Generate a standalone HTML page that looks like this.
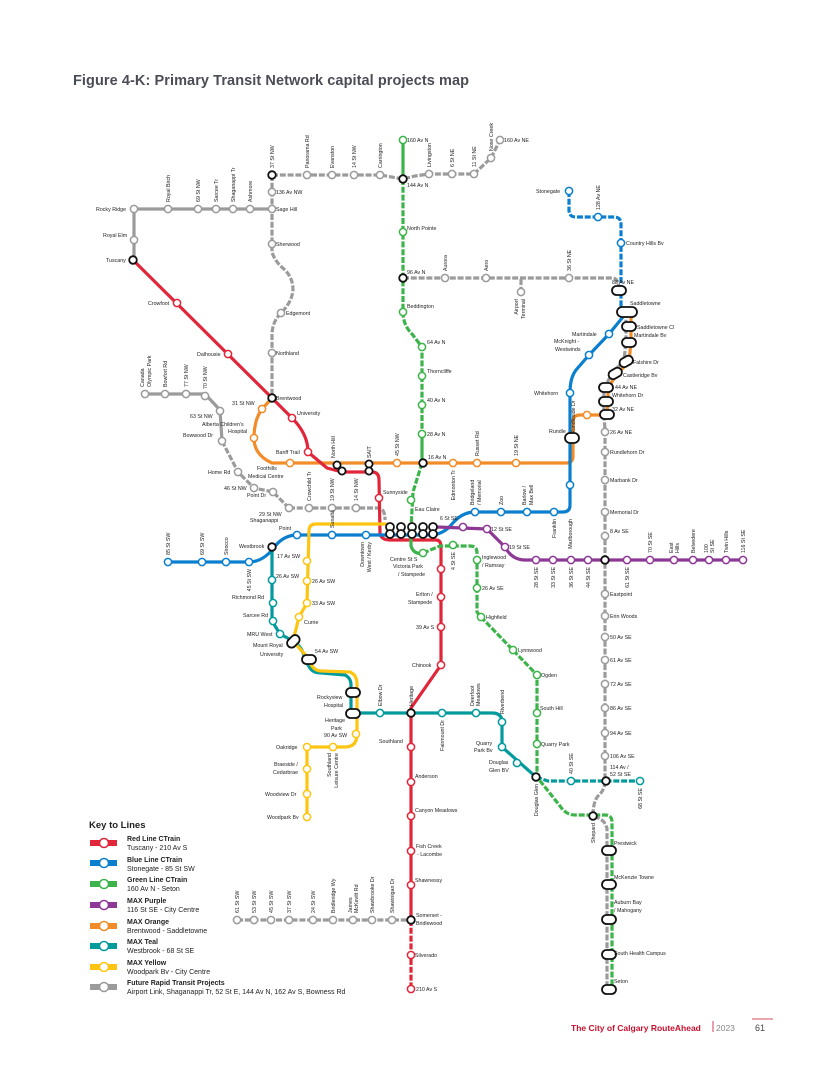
<!DOCTYPE html>
<html><head><meta charset="utf-8"><style>
html,body{margin:0;padding:0;background:#fff}
svg{display:block}
text{font-family:"Liberation Sans",sans-serif;fill:#222}
.t{font-size:5.3px}
.s{fill:#fff;stroke-width:1.5}
.L{fill:none;stroke-width:3.2;stroke-linecap:round;stroke-linejoin:round}
.L.d{stroke-dasharray:6 1.8;stroke-linecap:butt}
.r{stroke:#e1263a}.b{stroke:#0b7fcf}.g{stroke:#3db44b}.p{stroke:#8e3896}.o{stroke:#f28c28}.e{stroke:#039a9c}.y{stroke:#fdc512}.x{stroke:#9b9b9b}.k{stroke:#111}
.pl{fill:#fff;stroke:#111;stroke-width:1.8}
</style></head><body>
<svg width="830" height="1079" viewBox="0 0 830 1079" xmlns="http://www.w3.org/2000/svg">
<rect width="830" height="1079" fill="#fff"/>
<text x="73" y="85" style="font-size:14.5px;font-weight:bold;fill:#4a4d55" textLength="396">Figure 4-K: Primary Transit Network capital projects map</text>

<!-- gray future lines -->
<path class="L x" d="M134,209 L272,209 M134,209 L134,260"/>
<path class="L x d" d="M272,175 L272,244 L272,252 Q275,262 285,270 Q293,278 293,290 Q292,302 281,313 Q272,322 272,335 L272,398"/>
<path class="L x d" d="M272,175 L380,175 L403,179 L415,176 L429,174 L474,174 L491,158 L500,140"/>
<path class="L x d" d="M403,278 L612,278 Q619,278 619,290 M521,279 L521,292"/>
<path class="L x" d="M145,394 L205,394 L220,410 L222,441"/>
<path class="L x d" d="M222,441 L238,472 L254,488 L273,492 L289,508"/>
<path class="L x d" d="M289,508 L378,508 Q385,508 385,520"/>
<path class="L x d" d="M626,312 L626,342 L624,360 L612,374 L604,388 L604,414 L605,430 L605,781 Q605,790 598,796 Q593,802 593,816 Q600,818 604,822 L607,828 L607,989"/>
<path class="L x d" d="M237,920 L411,920"/>

<!-- orange -->
<path class="L o" d="M272,398 L262,409 Q254,420 254,438 Q254,455 272,463 L566,463 Q573,463 573,456 L573,422 Q573,415 580,415 L607,415 L608,401 L608,388 L617,374 L629,362 L631,342 L631,312"/>
<!-- red -->
<path class="L r" d="M133,260 L272,398 L292,418 Q308,434 308,452 L327,468 L342,472 L372,472 Q379,472 379,480 L380,533 Q381,540 390,540 L436,540 Q441,540 441,547 L441,665 L411,708 L411,920"/>
<path class="L r d" d="M411,920 L411,989"/>
<!-- blue -->
<path class="L b d" d="M569,191 L569,210 Q569,217 576,217 L614,217 Q621,217 621,224 L621,312"/>
<path class="L b" d="M627,312 L609,334 L589,355 L576,370 Q570,378 570,392 L570,505 Q570,512 563,512 L475,512 Q462,512 452,524 Q445,533 433,535 L297,535 Q285,535 276,545 Q264,562 249,562 L168,562"/>
<!-- purple -->
<path class="L p" d="M437,527 L487,529 L505,547 Q512,560 525,560 L743,560"/>
<!-- teal -->
<path class="L e" d="M272,547 L272,621 L280,634 L293,641 Q303,647 305,660 L310,668 Q313,673 322,673 L345,675 Q351,678 351,685 L351,713 L492,713 Q502,713 502,722 L502,747 L536,777"/>
<path class="L e d" d="M536,777 L548,781 L640,781"/>
<!-- yellow -->
<path class="L y" d="M386,524 L316,524 Q309,524 309,531 L307,603 L299,617 L293,641 L309,659 Q312,671 322,671 L350,672 Q357,675 357,684 L357,734 Q357,747 345,747 L307,747 L307,817"/>
<!-- green -->
<path class="L g" d="M403,140 L403,179"/>
<path class="L g d" d="M403,179 L403,312 Q403,325 412,334 L422,347 L422,434"/>
<path class="L g" d="M422,434 L422,463"/>
<path class="L g d" d="M422,463 L413,492 L411,528"/>
<path class="L g" d="M411,528 L411,546 Q414,555 423,553"/>
<path class="L g d" d="M423,553 L440,546 L470,546 Q477,546 477,553 L477,612 L481,617 L537,675 L537,777 L560,806 Q566,815 575,815 L605,815 Q612,815 612,822 L612,989"/>

<!-- stations: red -->
<g class="s r">
<circle cx="177" cy="303" r="3.6"/><circle cx="228" cy="354" r="3.6"/><circle cx="292" cy="418" r="3.6"/><circle cx="308" cy="452" r="3.6"/><circle cx="379" cy="498" r="3.6"/>
<circle cx="441" cy="569" r="3.6"/><circle cx="441" cy="597" r="3.6"/><circle cx="441" cy="627" r="3.6"/><circle cx="441" cy="665" r="3.6"/>
<circle cx="411" cy="747" r="3.6"/><circle cx="411" cy="782" r="3.6"/><circle cx="411" cy="816" r="3.6"/><circle cx="411" cy="851" r="3.6"/><circle cx="411" cy="885" r="3.6"/><circle cx="411" cy="955" r="3.6"/><circle cx="411" cy="989" r="3.6"/>
</g>
<g class="s b">
<circle cx="569" cy="191" r="3.6"/><circle cx="598" cy="217" r="3.6"/><circle cx="621" cy="243" r="3.6"/><circle cx="609" cy="334" r="3.6"/><circle cx="589" cy="355" r="3.6"/><circle cx="570" cy="393" r="3.6"/><circle cx="570" cy="485" r="3.6"/>
<circle cx="475" cy="512" r="3.6"/><circle cx="501" cy="512" r="3.6"/><circle cx="527" cy="512" r="3.6"/><circle cx="554" cy="512" r="3.6"/>
<circle cx="297" cy="535" r="3.6"/><circle cx="332" cy="535" r="3.6"/><circle cx="366" cy="535" r="3.6"/>
<circle cx="168" cy="562" r="3.6"/><circle cx="202" cy="562" r="3.6"/><circle cx="226" cy="562" r="3.6"/><circle cx="249" cy="562" r="3.6"/>
</g>
<g class="s g">
<circle cx="403" cy="140" r="3.6"/><circle cx="403" cy="232" r="3.6"/><circle cx="403" cy="312" r="3.6"/><circle cx="422" cy="347" r="3.6"/><circle cx="422" cy="376" r="3.6"/><circle cx="422" cy="405" r="3.6"/><circle cx="422" cy="434" r="3.6"/>
<circle cx="411" cy="500" r="3.6"/><circle cx="423" cy="553" r="3.6"/><circle cx="453" cy="545" r="3.6"/><circle cx="477" cy="560" r="3.6"/><circle cx="477" cy="588" r="3.6"/><circle cx="481" cy="617" r="3.6"/><circle cx="513" cy="650" r="3.6"/><circle cx="537" cy="675" r="3.6"/><circle cx="537" cy="713" r="3.6"/><circle cx="537" cy="744" r="3.6"/>
</g>
<g class="s p">
<circle cx="463" cy="527" r="3.6"/><circle cx="487" cy="529" r="3.6"/><circle cx="505" cy="547" r="3.6"/>
<circle cx="536" cy="560" r="3.6"/><circle cx="553" cy="560" r="3.6"/><circle cx="571" cy="560" r="3.6"/><circle cx="588" cy="560" r="3.6"/><circle cx="627" cy="560" r="3.6"/><circle cx="650" cy="560" r="3.6"/><circle cx="674" cy="560" r="3.6"/><circle cx="693" cy="560" r="3.6"/><circle cx="709" cy="560" r="3.6"/><circle cx="726" cy="560" r="3.6"/><circle cx="743" cy="560" r="3.6"/>
</g>
<g class="s o">
<circle cx="262" cy="409" r="3.6"/><circle cx="254" cy="438" r="3.6"/><circle cx="290" cy="463" r="3.6"/><circle cx="397" cy="463" r="3.6"/><circle cx="453" cy="463" r="3.6"/><circle cx="477" cy="463" r="3.6"/><circle cx="516" cy="463" r="3.6"/><circle cx="587" cy="415" r="3.6"/>
</g>
<g class="s e">
<circle cx="272" cy="580" r="3.6"/><circle cx="273" cy="603" r="3.6"/><circle cx="273" cy="621" r="3.6"/><circle cx="280" cy="634" r="3.6"/>
<circle cx="380" cy="713" r="3.6"/><circle cx="442" cy="713" r="3.6"/><circle cx="476" cy="713" r="3.6"/><circle cx="502" cy="722" r="3.6"/><circle cx="502" cy="747" r="3.6"/><circle cx="517" cy="763" r="3.6"/><circle cx="571" cy="781" r="3.6"/><circle cx="640" cy="781" r="3.6"/>
</g>
<g class="s y">
<circle cx="307" cy="561" r="3.6"/><circle cx="307" cy="581" r="3.6"/><circle cx="307" cy="603" r="3.6"/><circle cx="299" cy="617" r="3.6"/>
<circle cx="356" cy="734" r="3.6"/><circle cx="333" cy="747" r="3.6"/><circle cx="307" cy="747" r="3.6"/><circle cx="307" cy="769" r="3.6"/><circle cx="307" cy="794" r="3.6"/><circle cx="307" cy="817" r="3.6"/>
</g>
<g class="s x">
<circle cx="134" cy="209" r="3.6"/><circle cx="168" cy="209" r="3.6"/><circle cx="198" cy="209" r="3.6"/><circle cx="216" cy="209" r="3.6"/><circle cx="233" cy="209" r="3.6"/><circle cx="250" cy="209" r="3.6"/><circle cx="272" cy="209" r="3.6"/><circle cx="272" cy="192" r="3.6"/><circle cx="134" cy="240" r="3.6"/>
<circle cx="272" cy="244" r="3.6"/><circle cx="281" cy="313" r="3.6"/><circle cx="272" cy="353" r="3.6"/>
<circle cx="307" cy="175" r="3.6"/><circle cx="332" cy="175" r="3.6"/><circle cx="354" cy="175" r="3.6"/><circle cx="380" cy="175" r="3.6"/><circle cx="429" cy="174" r="3.6"/><circle cx="452" cy="174" r="3.6"/><circle cx="474" cy="174" r="3.6"/><circle cx="491" cy="158" r="3.6"/><circle cx="500" cy="140" r="3.6"/>
<circle cx="445" cy="278" r="3.6"/><circle cx="486" cy="278" r="3.6"/><circle cx="521" cy="292" r="3.6"/><circle cx="569" cy="278" r="3.6"/>
<circle cx="145" cy="394" r="3.6"/><circle cx="165" cy="394" r="3.6"/><circle cx="186" cy="394" r="3.6"/><circle cx="205" cy="396" r="3.6"/><circle cx="220" cy="411" r="3.6"/><circle cx="222" cy="441" r="3.6"/><circle cx="238" cy="472" r="3.6"/><circle cx="254" cy="488" r="3.6"/><circle cx="273" cy="492" r="3.6"/><circle cx="289" cy="508" r="3.6"/><circle cx="309" cy="508" r="3.6"/><circle cx="332" cy="508" r="3.6"/><circle cx="356" cy="508" r="3.6"/>
<circle cx="605" cy="432" r="3.6"/><circle cx="605" cy="452" r="3.6"/><circle cx="605" cy="480" r="3.6"/><circle cx="605" cy="512" r="3.6"/><circle cx="605" cy="536" r="3.6"/><circle cx="605" cy="594" r="3.6"/><circle cx="605" cy="616" r="3.6"/><circle cx="605" cy="637" r="3.6"/><circle cx="605" cy="660" r="3.6"/><circle cx="605" cy="684" r="3.6"/><circle cx="605" cy="708" r="3.6"/><circle cx="605" cy="733" r="3.6"/><circle cx="605" cy="756" r="3.6"/>
<circle cx="237" cy="920" r="3.6"/><circle cx="254" cy="920" r="3.6"/><circle cx="271" cy="920" r="3.6"/><circle cx="289" cy="920" r="3.6"/><circle cx="313" cy="920" r="3.6"/><circle cx="333" cy="920" r="3.6"/><circle cx="353" cy="920" r="3.6"/><circle cx="372" cy="920" r="3.6"/><circle cx="392" cy="920" r="3.6"/>
</g>
<!-- interchange black -->
<g class="s k" style="stroke-width:1.8">
<circle cx="272" cy="175" r="3.8"/><circle cx="403" cy="179" r="3.8"/><circle cx="133" cy="260" r="3.8"/><circle cx="403" cy="278" r="3.8"/><circle cx="272" cy="398" r="3.8"/><circle cx="423" cy="463" r="3.8"/><circle cx="272" cy="547" r="3.8"/><circle cx="605" cy="560" r="3.8"/><circle cx="411" cy="713" r="3.8"/><circle cx="536" cy="777" r="3.8"/><circle cx="606" cy="781" r="3.8"/><circle cx="593" cy="816" r="3.8"/><circle cx="411" cy="920" r="3.8"/>
<circle cx="337" cy="465" r="3.6"/><circle cx="342" cy="471" r="3.6"/><circle cx="369" cy="464" r="3.6"/><circle cx="369" cy="471" r="3.6"/>
<circle cx="390" cy="527" r="4"/><circle cx="390" cy="534" r="4"/><circle cx="401" cy="527" r="4"/><circle cx="401" cy="534" r="4"/><circle cx="412" cy="527" r="4"/><circle cx="412" cy="534" r="4"/><circle cx="423" cy="527" r="4"/><circle cx="423" cy="534" r="4"/><circle cx="433" cy="527" r="4"/><circle cx="433" cy="534" r="4"/>
</g>
<!-- pills -->
<g class="pl">
<rect x="612" y="286" width="14" height="9" rx="4.5"/><rect x="617" y="307" width="20" height="10" rx="5"/><rect x="622" y="322" width="14" height="9" rx="4.5"/><rect x="622" y="338" width="14" height="9" rx="4.5"/><rect x="619" y="357" width="14" height="9" rx="4.5" transform="rotate(-30 626 361)"/><rect x="608" y="369" width="14" height="9" rx="4.5" transform="rotate(-30 615 373)"/><rect x="599" y="383" width="14" height="9" rx="4.5"/><rect x="599" y="397" width="14" height="9" rx="4.5"/><rect x="600" y="410" width="14" height="9" rx="4.5"/><rect x="565" y="433" width="14" height="10" rx="5"/>
<rect x="286" y="637" width="14" height="9" rx="4.5" transform="rotate(-45 293 641)"/><rect x="302" y="655" width="14" height="9" rx="4.5"/><rect x="346" y="688" width="14" height="9" rx="4.5"/><rect x="346" y="709" width="14" height="9" rx="4.5"/>
<rect x="602" y="846" width="14" height="9" rx="4.5"/><rect x="602" y="880" width="14" height="9" rx="4.5"/><rect x="602" y="915" width="14" height="9" rx="4.5"/><rect x="602" y="950" width="14" height="9" rx="4.5"/><rect x="602" y="985" width="14" height="9" rx="4.5"/>
</g>

<!-- labels horizontal -->
<g class="t">
<text x="407" y="142">160 Av N</text><text x="504" y="142">160 Av NE</text><text x="276" y="194">136 Av NW</text><text x="407" y="187">144 Av N</text>
<text x="96" y="211">Rocky Ridge</text><text x="276" y="211">Sage Hill</text><text x="103" y="237">Royal Elm</text><text x="106" y="262">Tuscany</text>
<text x="407" y="230">North Pointe</text><text x="536" y="193">Stonegate</text><text x="626" y="245">Country Hills Bv</text>
<text x="276" y="246">Sherwood</text><text x="407" y="274">96 Av N</text><text x="612" y="284">88 Av NE</text><text x="630" y="305">Saddletowne</text>
<text x="148" y="305">Crowfoot</text><text x="407" y="308">Beddington</text><text x="286" y="315">Edgemont</text><text x="427" y="344">64 Av N</text>
<text x="637" y="329">Saddletowne Cl</text><text x="634" y="337">Martindale Bv</text><text x="572" y="336">Martindale</text><text x="554" y="343">McKnight -</text><text x="555" y="351">Westwinds</text>
<text x="197" y="356">Dalhousie</text><text x="276" y="355">Northland</text><text x="633" y="364">Falshire Dr</text><text x="623" y="377">Castleridge Bv</text>
<text x="427" y="373">Thorncliffe</text><text x="615" y="389">44 Av NE</text><text x="612" y="397">Whitehorn Dr</text><text x="534" y="395">Whitehorn</text>
<text x="276" y="400">Brentwood</text><text x="232" y="405">31 St NW</text><text x="427" y="402">40 Av N</text><text x="612" y="411">32 Av NE</text><text x="190" y="418">63 St NW</text><text x="297" y="415">University</text>
<text x="202" y="426">Alberta Children's</text><text x="228" y="433">Hospital</text><text x="183" y="437">Bowwood Dr</text><text x="427" y="436">28 Av N</text><text x="549" y="433">Rundle</text><text x="610" y="434">26 Av NE</text>
<text x="276" y="454">Banff Trail</text><text x="610" y="454">Rundlehorn Dr</text><text x="428" y="459">16 Av N</text>
<text x="257" y="470">Foothills</text><text x="248" y="478">Medical Centre</text><text x="208" y="474">Home Rd</text><text x="610" y="482">Marbank Dr</text>
<text x="224" y="490">46 St NW</text><text x="247" y="497">Point Dr</text><text x="383" y="494">Sunnyside</text><text x="415" y="511">Eau Claire</text><text x="610" y="514">Memorial Dr</text>
<text x="259" y="516">29 St NW</text><text x="250" y="522">Shaganappi</text><text x="279" y="530">Point</text><text x="440" y="520">6 St SE</text><text x="491" y="531">12 St SE</text><text x="509" y="549">19 St SE</text><text x="610" y="533">8 Av SE</text>
<text x="239" y="548">Westbrook</text><text x="277" y="558">17 Av SW</text><text x="390" y="561">Centre St S</text><text x="393" y="568">Victoria Park</text><text x="398" y="576">/ Stampede</text><text x="482" y="559">Inglewood</text><text x="482" y="567">/ Ramsay</text>
<text x="276" y="578">26 Av SW</text><text x="312" y="583">26 Av SW</text><text x="482" y="590">26 Av SE</text><text x="610" y="596">Eastpoint</text>
<text x="232" y="599">Richmond Rd</text><text x="312" y="605">33 Av SW</text><text x="416" y="596">Erlton /</text><text x="408" y="604">Stampede</text>
<text x="243" y="617">Sarcee Rd</text><text x="304" y="624">Currie</text><text x="486" y="619">Highfield</text><text x="610" y="618">Erin Woods</text><text x="416" y="629">39 Av S</text>
<text x="247" y="636">MRU West</text><text x="253" y="647">Mount Royal</text><text x="260" y="656">University</text><text x="315" y="653">54 Av SW</text><text x="610" y="639">50 Av SE</text>
<text x="518" y="652">Lynnwood</text><text x="610" y="662">61 Av SE</text><text x="412" y="667">Chinook</text><text x="541" y="677">Ogden</text>
<text x="317" y="699">Rockyview</text><text x="324" y="707">Hospital</text><text x="610" y="686">72 Av SE</text><text x="540" y="710">South Hill</text><text x="610" y="710">86 Av SE</text>
<text x="325" y="722">Heritage</text><text x="331" y="730">Park</text><text x="324" y="737">90 Av SW</text><text x="379" y="743">Southland</text><text x="610" y="735">94 Av SE</text>
<text x="476" y="745">Quarry</text><text x="474" y="752">Park Bv</text><text x="541" y="746">Quarry Park</text><text x="276" y="749">Oakridge</text><text x="610" y="758">106 Av SE</text>
<text x="489" y="764">Douglas</text><text x="489" y="772">Glen BV</text><text x="610" y="769">114 Av /</text><text x="610" y="776">52 St SE</text>
<text x="274" y="766">Braeside /</text><text x="273" y="774">Cedarbrae</text><text x="415" y="778">Anderson</text><text x="265" y="796">Woodview Dr</text>
<text x="415" y="812">Canyon Meadows</text><text x="267" y="819">Woodpark Bv</text><text x="614" y="845">Prestwick</text>
<text x="416" y="848">Fish Creek</text><text x="417" y="856">- Lacombe</text><text x="614" y="879">McKenzie Towne</text><text x="415" y="882">Shawnessy</text>
<text x="614" y="904">Auburn Bay</text><text x="614" y="912">/ Mahogany</text><text x="416" y="917">Somerset -</text><text x="416" y="925">Bridlewood</text>
<text x="614" y="955">South Health Campus</text><text x="415" y="957">Silverado</text><text x="614" y="983">Seton</text><text x="416" y="991">210 Av S</text>
</g>
<!-- vertical labels -->
<g class="t">
<text transform="translate(274,168) rotate(-90)">37 St NW</text><text transform="translate(309,168) rotate(-90)">Panorama Rd</text><text transform="translate(334,168) rotate(-90)">Evanston</text><text transform="translate(356,168) rotate(-90)">14 St NW</text><text transform="translate(382,168) rotate(-90)">Carrington</text>
<text transform="translate(431,167) rotate(-90)">Livingston</text><text transform="translate(454,167) rotate(-90)">6 St NE</text><text transform="translate(476,167) rotate(-90)">11 St NE</text><text transform="translate(493,151) rotate(-90)">Nose Creek</text>
<text transform="translate(170,202) rotate(-90)">Royal Birch</text><text transform="translate(200,202) rotate(-90)">69 St NW</text><text transform="translate(218,202) rotate(-90)">Sarcee Tr</text><text transform="translate(235,202) rotate(-90)">Shaganappi Tr</text><text transform="translate(252,202) rotate(-90)">Ashmore</text>
<text transform="translate(600,210) rotate(-90)">128 Av NE</text><text transform="translate(447,271) rotate(-90)">Aurora</text><text transform="translate(488,271) rotate(-90)">Aero</text><text transform="translate(571,271) rotate(-90)">36 St NE</text>
<text transform="translate(518,299) rotate(-90)" text-anchor="end">Airport</text><text transform="translate(525,299) rotate(-90)" text-anchor="end">Terminal</text>
<text transform="translate(144,387) rotate(-90)">Canada</text><text transform="translate(151,387) rotate(-90)">Olympic Park</text><text transform="translate(167,387) rotate(-90)">Bowfort Rd</text><text transform="translate(188,387) rotate(-90)">77 St NW</text><text transform="translate(207,389) rotate(-90)">70 St NW</text>
<text transform="translate(335,458) rotate(-90)">North Hill</text><text transform="translate(371,458) rotate(-90)">SAIT</text><text transform="translate(399,456) rotate(-90)">45 St NW</text><text transform="translate(479,456) rotate(-90)">Russet Rd</text><text transform="translate(518,456) rotate(-90)">19 St NE</text>
<text transform="translate(455,470) rotate(-90)" text-anchor="end">Edmonton Tr</text><text transform="translate(311,501) rotate(-90)">Crowchild Tr</text><text transform="translate(334,501) rotate(-90)">19 St NW</text><text transform="translate(358,501) rotate(-90)">14 St NW</text>
<text transform="translate(575,434) rotate(-90)">Rundleside Dr</text>
<text transform="translate(474,505) rotate(-90)">Bridgeland</text><text transform="translate(481,505) rotate(-90)">/ Memorial</text><text transform="translate(503,505) rotate(-90)">Zoo</text><text transform="translate(526,505) rotate(-90)">Barlow /</text><text transform="translate(533,505) rotate(-90)">Max Bell</text>
<text transform="translate(556,519) rotate(-90)" text-anchor="end">Franklin</text><text transform="translate(572,519) rotate(-90)" text-anchor="end">Marlborough</text>
<text transform="translate(170,555) rotate(-90)">85 St SW</text><text transform="translate(204,555) rotate(-90)">69 St SW</text><text transform="translate(228,555) rotate(-90)">Sirocco</text><text transform="translate(251,569) rotate(-90)" text-anchor="end">45 St SW</text>
<text transform="translate(334,528) rotate(-90)">Sunalta</text><text transform="translate(364,542) rotate(-90)" text-anchor="end">Downtown</text><text transform="translate(371,542) rotate(-90)" text-anchor="end">West / Kerby</text><text transform="translate(455,552) rotate(-90)" text-anchor="end">4 St SE</text>
<text transform="translate(538,567) rotate(-90)" text-anchor="end">28 St SE</text><text transform="translate(555,567) rotate(-90)" text-anchor="end">33 St SE</text><text transform="translate(573,567) rotate(-90)" text-anchor="end">36 St SE</text><text transform="translate(590,567) rotate(-90)" text-anchor="end">44 St SE</text><text transform="translate(629,567) rotate(-90)" text-anchor="end">61 St SE</text>
<text transform="translate(652,553) rotate(-90)">70 St SE</text><text transform="translate(673,553) rotate(-90)">East</text><text transform="translate(679,553) rotate(-90)">Hills</text><text transform="translate(695,553) rotate(-90)">Belvedere</text><text transform="translate(708,553) rotate(-90)">100</text><text transform="translate(714,553) rotate(-90)">St SE</text><text transform="translate(728,553) rotate(-90)">Twin Hills</text><text transform="translate(745,553) rotate(-90)">116 St SE</text>
<text transform="translate(382,706) rotate(-90)">Elbow Dr</text><text transform="translate(413,706) rotate(-90)">Heritage</text><text transform="translate(474,706) rotate(-90)">Deerfoot</text><text transform="translate(480,706) rotate(-90)">Meadows</text><text transform="translate(504,714) rotate(-90)">Riverbend</text>
<text transform="translate(444,720) rotate(-90)" text-anchor="end">Fairmount Dr</text><text transform="translate(331,753) rotate(-90)" text-anchor="end">Southland</text><text transform="translate(338,753) rotate(-90)" text-anchor="end">Leisure Centre</text>
<text transform="translate(538,784) rotate(-90)" text-anchor="end">Douglas Glen</text><text transform="translate(573,774) rotate(-90)">40 St SE</text><text transform="translate(642,788) rotate(-90)" text-anchor="end">68 St SE</text><text transform="translate(595,823) rotate(-90)" text-anchor="end">Shepard</text>
<text transform="translate(239,913) rotate(-90)">61 St SW</text><text transform="translate(256,913) rotate(-90)">53 St SW</text><text transform="translate(273,913) rotate(-90)">45 St SW</text><text transform="translate(291,913) rotate(-90)">37 St SW</text><text transform="translate(315,913) rotate(-90)">24 St SW</text><text transform="translate(335,913) rotate(-90)">Bridleridge Wy</text><text transform="translate(352,913) rotate(-90)">James</text><text transform="translate(358,913) rotate(-90)">McKevitt Rd</text><text transform="translate(374,913) rotate(-90)">Shawbrooke Dr</text><text transform="translate(394,913) rotate(-90)">Shawinigan Dr</text>
</g>

<!-- legend -->
<text x="89" y="828" style="font-size:9.5px;font-weight:bold">Key to Lines</text>
<g>
<line x1="90" y1="843" x2="117" y2="843" stroke="#e1263a" stroke-width="6"/><circle cx="104" cy="843" r="4.5" class="s r"/>
<line x1="90" y1="863" x2="117" y2="863" stroke="#0b7fcf" stroke-width="6"/><circle cx="104" cy="863" r="4.5" class="s b"/>
<line x1="90" y1="884" x2="117" y2="884" stroke="#3db44b" stroke-width="6"/><circle cx="104" cy="884" r="4.5" class="s g"/>
<line x1="90" y1="905" x2="117" y2="905" stroke="#8e3896" stroke-width="6"/><circle cx="104" cy="905" r="4.5" class="s p"/>
<line x1="90" y1="926" x2="117" y2="926" stroke="#f28c28" stroke-width="6"/><circle cx="104" cy="926" r="4.5" class="s o"/>
<line x1="90" y1="946" x2="117" y2="946" stroke="#039a9c" stroke-width="6"/><circle cx="104" cy="946" r="4.5" class="s e"/>
<line x1="90" y1="967" x2="117" y2="967" stroke="#fdc512" stroke-width="6"/><circle cx="104" cy="967" r="4.5" class="s y"/>
<line x1="90" y1="987" x2="117" y2="987" stroke="#9b9b9b" stroke-width="6"/><circle cx="104" cy="987" r="4.5" class="s x"/>
</g>
<g style="font-size:7px">
<text x="127" y="841" font-weight="bold">Red Line CTrain</text><text x="127" y="850">Tuscany - 210 Av S</text>
<text x="127" y="862" font-weight="bold">Blue Line CTrain</text><text x="127" y="871">Stonegate - 85 St SW</text>
<text x="127" y="882" font-weight="bold">Green Line CTrain</text><text x="127" y="891">160 Av N - Seton</text>
<text x="127" y="903" font-weight="bold">MAX Purple</text><text x="127" y="912">116 St SE - City Centre</text>
<text x="127" y="924" font-weight="bold">MAX Orange</text><text x="127" y="933">Brentwood - Saddletowne</text>
<text x="127" y="944" font-weight="bold">MAX Teal</text><text x="127" y="953">Westbrook - 68 St SE</text>
<text x="127" y="965" font-weight="bold">MAX Yellow</text><text x="127" y="974">Woodpark Bv - City Centre</text>
<text x="127" y="985" font-weight="bold">Future Rapid Transit Projects</text><text x="127" y="994">Airport Link, Shaganappi Tr, 52 St E, 144 Av N, 162 Av S, Bowness Rd</text>
</g>

<!-- footer -->
<text x="571" y="1031" style="font-size:8.5px;fill:#c8102e;font-weight:bold">The City of Calgary RouteAhead</text>
<line x1="713" y1="1021" x2="713" y2="1032" stroke="#c8102e" stroke-width="0.8"/>
<text x="716" y="1031" style="font-size:8.5px;fill:#888">2023</text>
<line x1="752" y1="1019" x2="773" y2="1019" stroke="#c8102e" stroke-width="0.8"/>
<text x="755" y="1031" style="font-size:9px;fill:#444">61</text>
</svg>
</body></html>
